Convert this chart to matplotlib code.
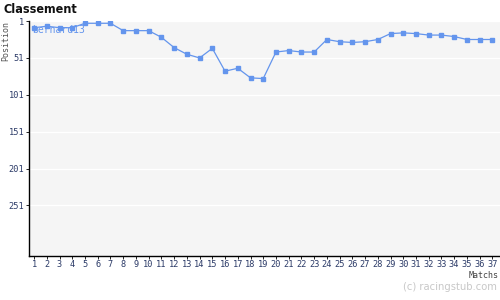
import numpy as np
import matplotlib
matplotlib.use("Agg")
import matplotlib.pyplot as plt

matches = list(range(1, 38))
positions = [10, 8, 10, 10, 4, 4, 4, 14, 14, 14, 23, 37, 46, 51, 38, 69, 65, 78, 79,
             43, 41, 43, 43, 26, 29, 30, 29, 26, 18, 17, 18, 20, 20, 22, 26, 26, 26]
yticks = [1, 51, 101, 151, 201, 251]
player = "bernard13"

blue = "#6495ed"
navy = "#2b3a67"

fig = plt.figure(figsize=(5, 3), dpi=100)
ax = fig.add_axes([0.057, 0.147, 0.943, 0.784])
ax.set_facecolor("#f5f5f5")

ax.plot(matches, positions, color=blue, lw=0.9, marker="s", ms=3.2, mec=blue, mfc=blue)

ax.set_xlim(0.56, 37.6)
ax.set_ylim(319.5, 0.5)
ax.set_xticks(matches)
ax.set_xticklabels([str(m) for m in matches], fontsize=6.2, color=navy, family="DejaVu Sans Mono")
ax.set_yticks(yticks)
ax.set_yticklabels([str(t) for t in yticks], fontsize=6.2, color=navy, family="DejaVu Sans Mono")
ax.tick_params(axis="both", length=2, width=0.6, pad=1)
ax.grid(axis="y", color="white", lw=1)
ax.set_axisbelow(True)

for s in ["top", "right"]:
    ax.spines[s].set_visible(False)
for s in ["left", "bottom"]:
    ax.spines[s].set_linewidth(1)

# legend-ish label inside the plot
ax.text(0.007, 12.8, player, color=blue, fontsize=7, family="DejaVu Sans Mono", va="center", ha="left",
        transform=ax.get_yaxis_transform())

fig.text(0.012, 0.863, "Position", rotation=90, fontsize=6, color="#555555", family="DejaVu Sans Mono",
         ha="center", va="center")
fig.text(0.008, 0.967, "Classement", fontsize=9, fontweight="bold", family="DejaVu Sans",
         fontstretch="condensed", color="#111111", va="center")
fig.text(0.997, 0.083, "Matchs", fontsize=6, color="#444444", family="DejaVu Sans Mono", ha="right", va="center")
fig.text(0.993, 0.043, "(c) racingstub.com", fontsize=8, color="#c8c8c8", family="DejaVu Sans",
         fontstretch="condensed", ha="right", va="center")

fig.savefig("out.png", dpi=100)
